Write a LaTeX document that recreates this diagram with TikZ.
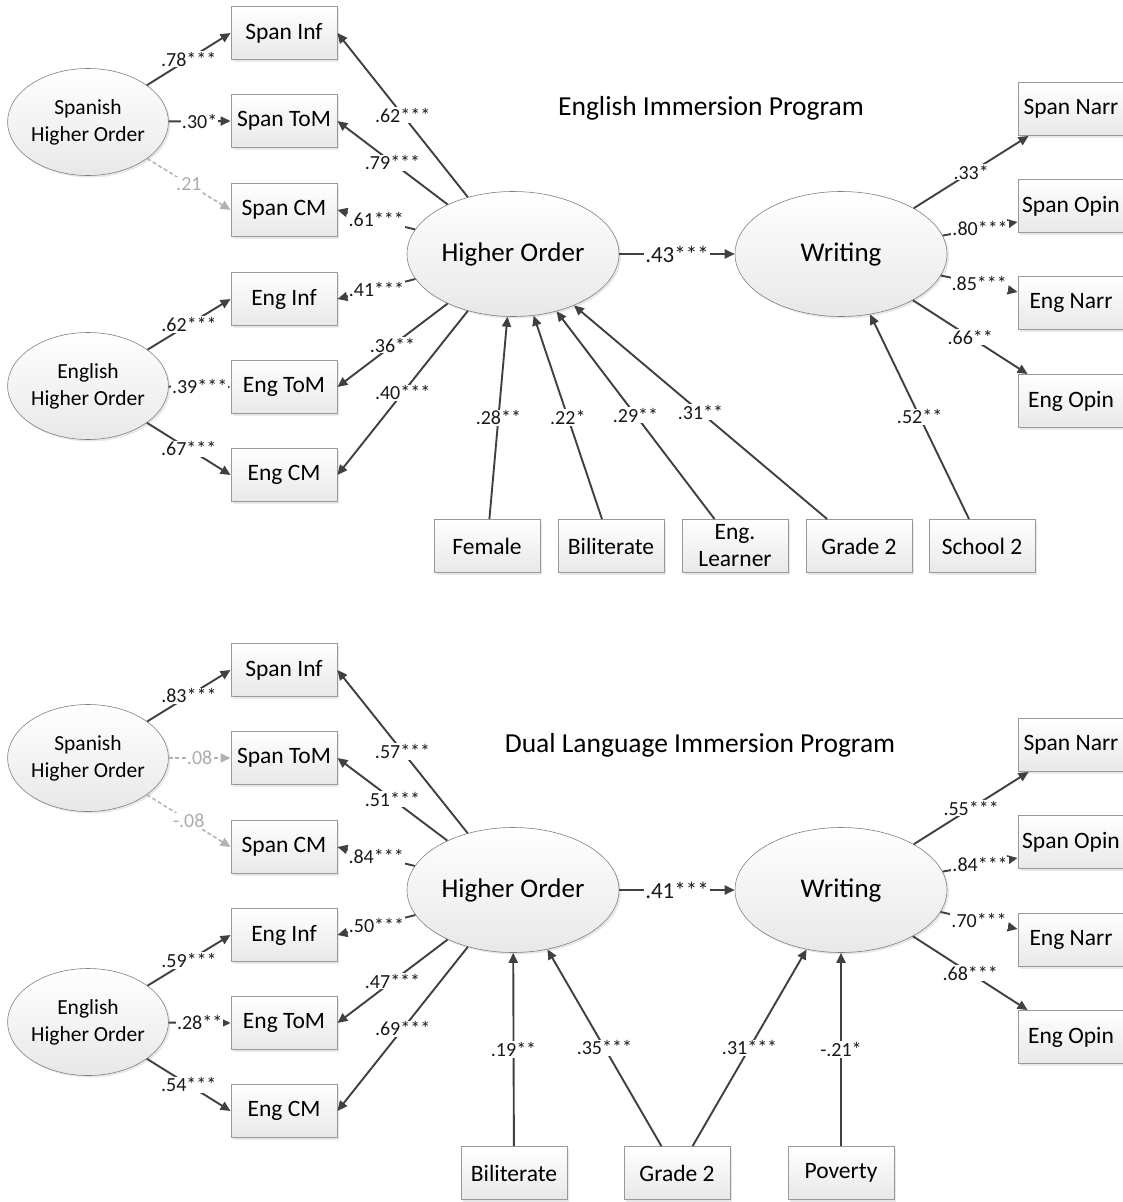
\documentclass[tikz,border=0pt]{standalone}
\usepackage{fontspec}
\setmainfont{Carlito}
\usetikzlibrary{arrows.meta,shapes.geometric,shadows}

\begin{document}
\begin{tikzpicture}[
  x=1pt, y=-1pt,
  box/.style={draw=black!40, top color=white, bottom color=black!9,
    line width=0.9pt, align=center, inner sep=2pt,
    minimum width=106pt, minimum height=53pt,
    font=\fontsize{23.5}{27}\selectfont,
    drop shadow={opacity=0.18, shadow xshift=2pt, shadow yshift=-2pt}},
  latent/.style={ellipse, draw=black!50, top color=white, bottom color=black!9,
    line width=0.6pt, align=center, inner sep=0pt,
    drop shadow={opacity=0.18, shadow xshift=2pt, shadow yshift=-2pt}},
  smalllatent/.style={latent, minimum width=157pt, minimum height=107pt,
    font=\fontsize{21.5}{27}\selectfont},
  biglatent/.style={latent, minimum width=212pt, minimum height=125pt,
    font=\fontsize{27}{30}\selectfont},
  flow/.style={-{Triangle[length=10pt,width=9pt]}, line width=1.9pt,
    draw=black!75},
  weak/.style={flow, draw=black!30, line width=1.5pt,
    dash pattern=on 4pt off 2.5pt},
  coef/.style={fill=white, inner sep=1pt, text=black!90,
    font=\fontsize{20}{22}\selectfont},
  weakcoef/.style={coef, text=black!32},
  bigcoef/.style={coef, font=\fontsize{23}{25}\selectfont},
  heading/.style={font=\fontsize{27.5}{30}\selectfont}
]
\useasboundingbox[fill=white] (0,0) rectangle (1122,1202);

\node[heading] (titleE) at (711,108) {English Immersion Program};
\node[smalllatent] (spanishE) at (88,122) {Spanish\\Higher Order};
\node[smalllatent] (englishE) at (88,386) {English\\Higher Order};
\node[box] (spanInfE) at (284,33) {Span Inf};
\node[box] (spanToME) at (284,121) {Span ToM};
\node[box] (spanCME) at (284,210) {Span CM};
\node[box] (engInfE) at (284,299) {Eng Inf};
\node[box] (engToME) at (284,387) {Eng ToM};
\node[box] (engCME) at (284,475) {Eng CM};
\node[biglatent] (higherE) at (513,254) {Higher Order};
\node[biglatent] (writingE) at (841,254) {Writing};
\node[box] (spanNarrE) at (1071,109) {Span Narr};
\node[box] (spanOpinE) at (1071,206) {Span Opin};
\node[box] (engNarrE) at (1071,303) {Eng Narr};
\node[box] (engOpinE) at (1071,401) {Eng Opin};
\node[box] (femaleE) at (487,546) {Female};
\node[box] (biliterateE) at (611,546) {Biliterate};
\node[box] (learnerE) at (735,546) {Eng.\\Learner};
\node[box] (gradeE) at (859,546) {Grade 2};
\node[box] (schoolE) at (982,546) {School 2};

\draw[flow] (spanishE) -- node[coef] {.78***} (spanInfE.west);
\draw[flow] (spanishE) -- node[coef] {.30*} (spanToME.west);
\draw[weak] (spanishE) -- node[weakcoef] {.21} (spanCME.west);
\draw[flow] (englishE) -- node[coef] {.62***} (engInfE.west);
\draw[flow] (englishE) -- node[coef] {.39***} (engToME.west);
\draw[flow] (englishE) -- node[coef] {.67***} (engCME.west);
\draw[flow] (higherE) -- node[coef] {.62***} (spanInfE.east);
\draw[flow] (higherE) -- node[coef] {.79***} (spanToME.east);
\draw[flow] (higherE) -- node[coef] {.61***} (spanCME.east);
\draw[flow] (higherE) -- node[coef] {.41***} (engInfE.east);
\draw[flow] (higherE) -- node[coef] {.36**} (engToME.east);
\draw[flow] (higherE) -- node[coef] {.40***} (engCME.east);
\draw[flow] (higherE) -- node[bigcoef] {.43***} (writingE);
\draw[flow] (writingE) -- node[coef] {.33*}
  ([xshift=11pt]spanNarrE.south west);
\draw[flow] (writingE) -- node[coef] {.80***}
  ([yshift=-16pt]spanOpinE.west);
\draw[flow] (writingE) -- node[coef] {.85***}
  ([yshift=11pt]engNarrE.west);
\draw[flow] (writingE) -- node[coef] {.66**}
  ([xshift=10pt]engOpinE.north west);
\draw[flow] (femaleE) -- node[coef] {.28**} (higherE);
\draw[flow] (biliterateE) -- node[coef] {.22*} (higherE);
\draw[flow] (learnerE) -- node[coef] {.29**} (higherE);
\draw[flow] (gradeE) -- node[coef] {.31**} (higherE);
\draw[flow] (schoolE) -- node[coef] {.52**} (writingE);

\node[heading] (titleD) at (700,745) {Dual Language Immersion Program};
\node[smalllatent] (spanishD) at (88,758) {Spanish\\Higher Order};
\node[smalllatent] (englishD) at (88,1022) {English\\Higher Order};
\node[box] (spanInfD) at (284,670) {Span Inf};
\node[box] (spanToMD) at (284,758) {Span ToM};
\node[box] (spanCMD) at (284,847) {Span CM};
\node[box] (engInfD) at (284,935) {Eng Inf};
\node[box] (engToMD) at (284,1023) {Eng ToM};
\node[box] (engCMD) at (284,1111) {Eng CM};
\node[biglatent] (higherD) at (513,890) {Higher Order};
\node[biglatent] (writingD) at (841,890) {Writing};
\node[box] (spanNarrD) at (1071,745) {Span Narr};
\node[box] (spanOpinD) at (1071,842) {Span Opin};
\node[box] (engNarrD) at (1071,940) {Eng Narr};
\node[box] (engOpinD) at (1071,1037) {Eng Opin};
\node[box] (biliterateD) at (514,1173) {Biliterate};
\node[box] (gradeD) at (677,1173) {Grade 2};
\node[box] (povertyD) at (841,1173) {Poverty};

\draw[flow] (spanishD) -- node[coef] {.83***} (spanInfD.west);
\draw[weak] (spanishD) -- node[weakcoef] {.08} (spanToMD.west);
\draw[weak] (spanishD) -- node[weakcoef] {-.08} (spanCMD.west);
\draw[flow] (englishD) -- node[coef] {.59***} (engInfD.west);
\draw[flow] (englishD) -- node[coef] {.28**} (engToMD.west);
\draw[flow] (englishD) -- node[coef] {.54***} (engCMD.west);
\draw[flow] (higherD) -- node[coef] {.57***} (spanInfD.east);
\draw[flow] (higherD) -- node[coef] {.51***} (spanToMD.east);
\draw[flow] (higherD) -- node[coef] {.84***} (spanCMD.east);
\draw[flow] (higherD) -- node[coef] {.50***} (engInfD.east);
\draw[flow] (higherD) -- node[coef] {.47***} (engToMD.east);
\draw[flow] (higherD) -- node[coef] {.69***} (engCMD.east);
\draw[flow] (higherD) -- node[bigcoef] {.41***} (writingD);
\draw[flow] (writingD) -- node[coef] {.55***}
  ([xshift=11pt]spanNarrD.south west);
\draw[flow] (writingD) -- node[coef] {.84***}
  ([yshift=-16pt]spanOpinD.west);
\draw[flow] (writingD) -- node[coef] {.70***}
  ([yshift=11pt]engNarrD.west);
\draw[flow] (writingD) -- node[coef] {.68***}
  ([xshift=10pt]engOpinD.north west);
\draw[flow] (biliterateD) -- node[coef] {.19**} (higherD);
\draw[flow] (gradeD) -- node[coef] {.35***} (higherD);
\draw[flow] (gradeD) -- node[coef] {.31***} (writingD);
\draw[flow] (povertyD) -- node[coef] {-.21*} (writingD);
\end{tikzpicture}
\end{document}
